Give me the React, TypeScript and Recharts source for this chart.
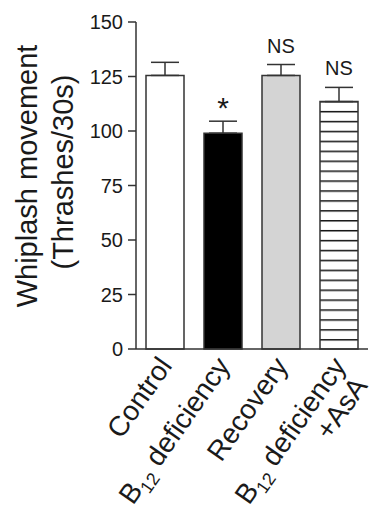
import React from 'react';
import { BarChart, Bar, XAxis, YAxis, Cell, ErrorBar, LabelList } from 'recharts';

const categories = ['Control', 'B12 deficiency', 'Recovery', 'B12 deficiency +AsA'];
const means = [125.5, 99, 125.5, 113.5];
const errors = [6, 5.5, 5, 6.5];
const annotations = ['', '*', 'NS', 'NS'];
const yTicks = [0, 25, 50, 75, 100, 125, 150];
const tickLabelLines = [['Control'], ['B12 deficiency'], ['Recovery'], ['B12 deficiency', '+AsA']];
const fills = ['#ffffff', '#000000', '#d4d4d4', 'url(#hstripes)'];

const data = categories.map((c, i) => ({ name: c, value: means[i], err: [0, errors[i]], idx: i }));

const FONT = '"Liberation Sans", Arial, Helvetica, sans-serif';
const INK = '#1a1a1a';
const AXIS = '#333333';

function renderLine(line: string) {
  if (line.startsWith('B12')) {
    return [
      <tspan key="b">B</tspan>,
      <tspan key="s" fontSize={18} dy={7}>12</tspan>,
      <tspan key="r" dy={-7}>{line.slice(3)}</tspan>,
    ];
  }
  return line;
}

const XTick = (props: any) => {
  const { x, y, payload } = props;
  const i = categories.indexOf(payload.value);
  const lines = tickLabelLines[i] || [String(payload.value)];
  return (
    <g transform={`translate(${x + 8},${y + 17})`}>
      {lines.map((l, k) => (
        <text key={k} transform="rotate(-55)" x={k > 0 ? -4 : 0} y={k * 29} textAnchor="end" fontSize={28} fontFamily={FONT} fill={INK}>
          {renderLine(l)}
        </text>
      ))}
    </g>
  );
};

const YLabel = () => (
  <g>
    <text x={37} y={176} transform="rotate(-90, 37, 176)" textAnchor="middle" fontSize={29} fontFamily={FONT} fill={INK}>
      Whiplash movement
    </text>
    <text x={73} y={172} transform="rotate(-90, 73, 172)" textAnchor="middle" fontSize={29} fontFamily={FONT} fill={INK}>
      (Thrashes/30s)
    </text>
  </g>
);

const AnnLabel = (props: any) => {
  const vb = props.viewBox || {};
  const x = props.x ?? vb.x;
  const y = props.y ?? vb.y;
  const width = props.width ?? vb.width;
  const height = Math.abs(props.height ?? vb.height);
  const i = Number(props.value);
  const text = annotations[i];
  if (!text) return null;
  const ppu = height / means[i];
  const top = y - errors[i] * ppu;
  const star = text === '*';
  return (
    <text x={x + width / 2} y={top - (star ? 3 : 12)} textAnchor="middle" fontSize={star ? 30 : 20} fontFamily={FONT} fill={INK}>
      {text}
    </text>
  );
};

export default function App() {
  return (
    <div style={{ position: 'absolute', left: 0, top: 0, background: '#fff' }}>
      <BarChart width={374} height={515} data={data} margin={{ top: 22, right: 6, left: 0, bottom: 6 }}>
        <defs>
          <pattern id="hstripes" patternUnits="userSpaceOnUse" x={0} y={1.8} width={10} height={9.92}>
            <rect x={0} y={0} width={10} height={9.92} fill="#ffffff" />
            <line x1={0} x2={10} y1={0.75} y2={0.75} stroke="#111" strokeWidth={1.5} />
          </pattern>
        </defs>
        <XAxis
          dataKey="name"
          height={160}
          tickLine={false}
          tickSize={0}
          tickMargin={0}
          interval={0}
          axisLine={{ stroke: AXIS, strokeWidth: 1.5 }}
          tick={<XTick />}
        />
        <YAxis
          width={136}
          domain={[0, 150]}
          ticks={yTicks}
          interval={0}
          tickSize={8}
          tickMargin={5}
          axisLine={{ stroke: AXIS, strokeWidth: 1.5 }}
          tickLine={{ stroke: AXIS, strokeWidth: 1.5 }}
          tick={{ fontSize: 20, fontFamily: FONT, fill: INK }}
          label={<YLabel />}
        />
        <Bar dataKey="value" barSize={38} stroke={AXIS} strokeWidth={1.5} isAnimationActive={false}>
          {data.map((d, i) => (
            <Cell key={i} fill={fills[i]} />
          ))}
          <ErrorBar dataKey="err" width={14} stroke={AXIS} strokeWidth={1.5} direction="y" isAnimationActive={false} />
          <LabelList dataKey="idx" content={<AnnLabel />} />
        </Bar>
      </BarChart>
    </div>
  );
}
